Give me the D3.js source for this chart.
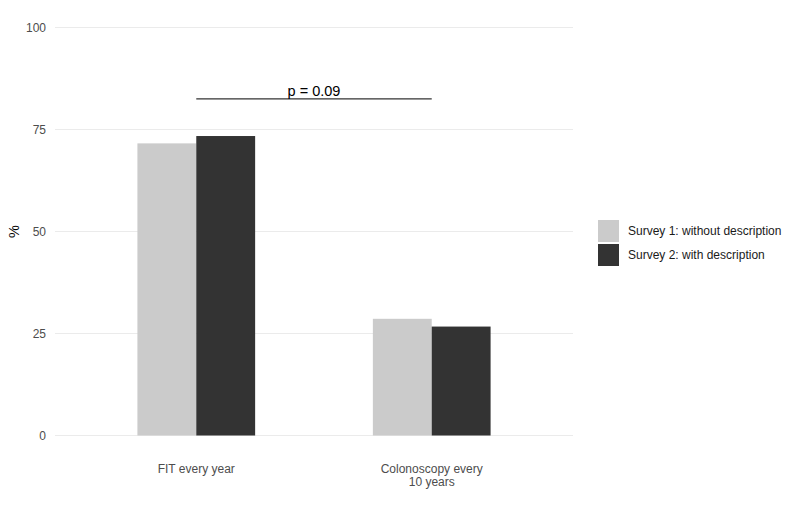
<!DOCTYPE html>
<html><head><meta charset="utf-8">
<script src="https://cdn.jsdelivr.net/npm/d3@7"></script>
<style>body{margin:0;background:#fff;} svg{display:block;font-family:"Liberation Sans",Arial,sans-serif;}</style>
</head><body>
<svg id="c" width="799" height="514"></svg>
<script>
const categories = ["FIT every year", "Colonoscopy every\n10 years"];
const seriesNames = ["Survey 1: without description", "Survey 2: with description"];
const survey1 = [71.6, 28.6];
const survey2 = [73.4, 26.7];
const yTicks = [0, 25, 50, 75, 100];
const colors = ["#cbcbcb", "#333333"];
const pLabel = "p = 0.09";
const pValueLevel = 82.5;

(function(){
const svg = d3.select("#c");
const pLeft = 55, pRight = 573, pTop = 27.5, pBottom = 435.5;

const y = d3.scaleLinear().domain([0, 100]).range([pBottom, pTop]);
// ggplot-like discrete scale: positions 1..n, expand 0.6
const xc = d3.scaleLinear().domain([0.4, categories.length + 0.6]).range([pLeft, pRight]);
const barW = xc(1.25) - xc(1);

// grid
svg.append("g").selectAll("line").data(yTicks).join("line")
  .attr("x1", pLeft).attr("x2", pRight)
  .attr("y1", d => y(d)).attr("y2", d => y(d))
  .attr("stroke", "#ebebeb").attr("stroke-width", 1.1);

// y tick labels
svg.append("g").selectAll("text").data(yTicks).join("text")
  .attr("x", 46).attr("y", d => y(d)).attr("dy", "0.35em")
  .attr("text-anchor", "end").attr("font-size", 12).attr("fill", "#4d4d4d")
  .text(d => d);

// y title
svg.append("text").attr("transform", `translate(19,${(pTop+pBottom)/2}) rotate(-90)`)
  .attr("text-anchor", "middle").attr("font-size", 14.5).attr("fill", "#000").text("%");

// bars
const data = [];
categories.forEach((c, i) => {
  data.push({i, s: 0, v: survey1[i]});
  data.push({i, s: 1, v: survey2[i]});
});
svg.append("g").selectAll("rect").data(data).join("rect")
  .attr("x", d => d.s === 0 ? xc(d.i + 1) - barW : xc(d.i + 1))
  .attr("width", barW)
  .attr("y", d => y(d.v))
  .attr("height", d => y(0) - y(d.v))
  .attr("fill", d => colors[d.s]);

// x labels
const xl = svg.append("g").selectAll("text").data(categories).join("text")
  .attr("text-anchor", "middle").attr("font-size", 12).attr("fill", "#4d4d4d")
  .attr("x", (d, i) => xc(i + 1)).attr("y", 473);
xl.each(function(d, i) {
  const lines = d.split("\n");
  d3.select(this).selectAll("tspan").data(lines).join("tspan")
    .attr("x", xc(i + 1)).attr("dy", (l, k) => k === 0 ? 0 : 13).text(l => l);
});

// significance bracket
svg.append("line")
  .attr("x1", xc(1)).attr("x2", xc(2))
  .attr("y1", y(pValueLevel)).attr("y2", y(pValueLevel))
  .attr("stroke", "#333").attr("stroke-width", 1.2);
svg.append("text").attr("x", (xc(1) + xc(2)) / 2).attr("y", y(pValueLevel) - 3)
  .attr("text-anchor", "middle").attr("font-size", 14.5).attr("fill", "#000").text(pLabel);

// legend
const lg = svg.append("g").attr("transform", "translate(598,220)");
seriesNames.forEach((n, k) => {
  lg.append("rect").attr("x", 0).attr("y", k * 24).attr("width", 21).attr("height", 22).attr("fill", colors[k]);
  lg.append("text").attr("x", 30).attr("y", k * 24 + 11).attr("dy", "0.35em")
    .attr("font-size", 12).attr("fill", "#1a1a1a").text(n);
});
})();
</script>
</body></html>
